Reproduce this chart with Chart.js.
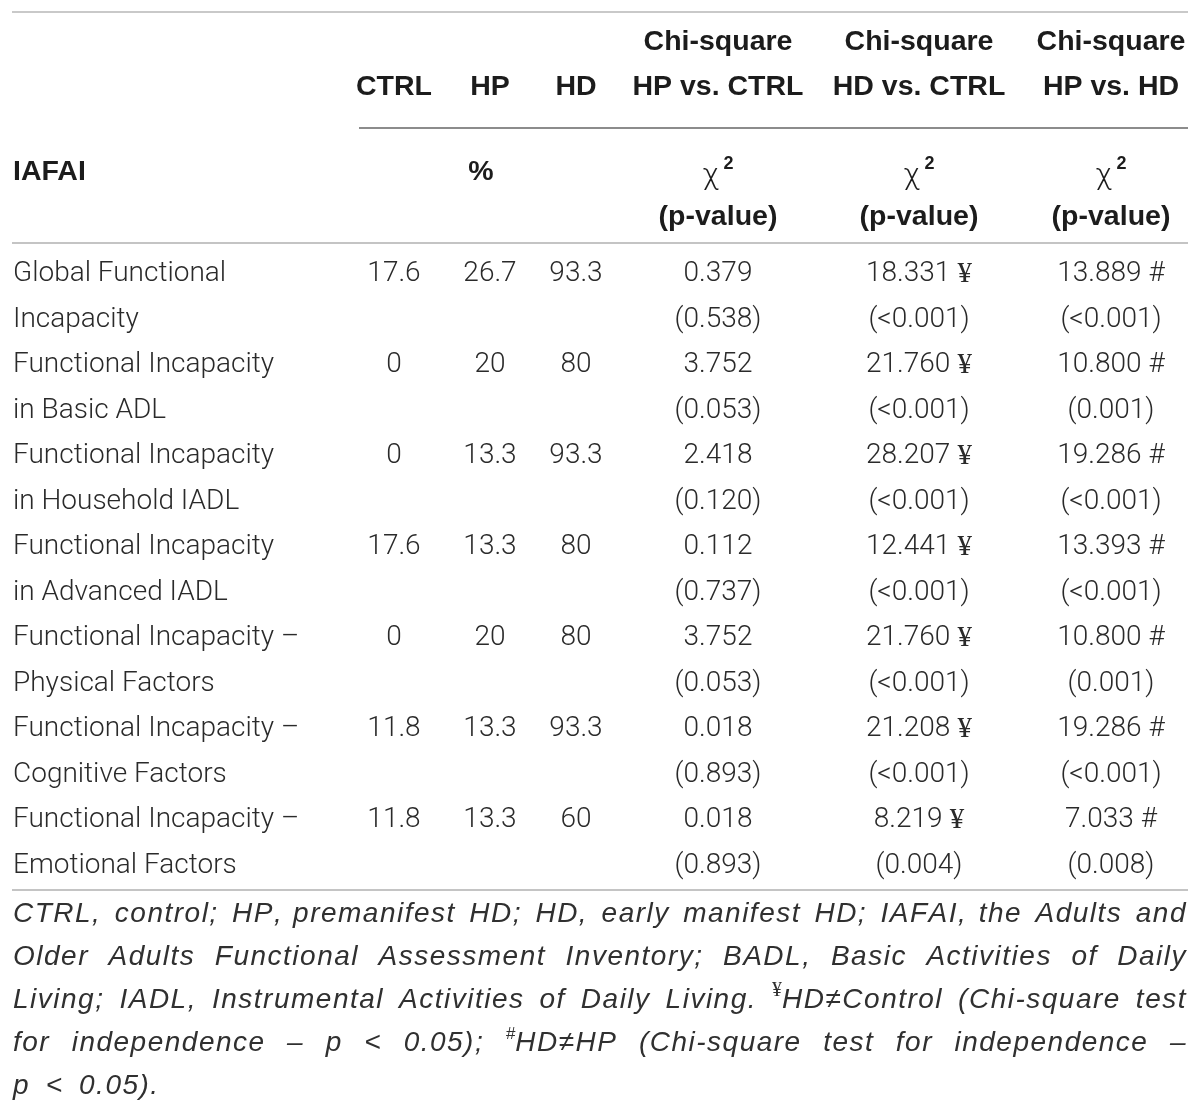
<!DOCTYPE html>
<html>
<head>
<meta charset="utf-8">
<title>IAFAI chi-square table</title>
<script src="https://cdn.jsdelivr.net/npm/chart.js@4.4.1/dist/chart.umd.min.js"></script>
<style>
  html, body { margin: 0; padding: 0; background: #fff; }
  #wrap { width: 1200px; height: 1114px; position: relative; }
</style>
</head>
<body>
<div id="wrap"><canvas id="tableChart"></canvas></div>
<script>
// -------------------- DATA --------------------
const groupHeads = ['CTRL', 'HP', 'HD'];
const chiHeads = ['HP vs. CTRL', 'HD vs. CTRL', 'HP vs. HD'];

// each measure is written on two lines
const measures = [
  ['Global Functional', 'Incapacity'],
  ['Functional Incapacity', 'in Basic ADL'],
  ['Functional Incapacity', 'in Household IADL'],
  ['Functional Incapacity', 'in Advanced IADL'],
  ['Functional Incapacity \u2013', 'Physical Factors'],
  ['Functional Incapacity \u2013', 'Cognitive Factors'],
  ['Functional Incapacity \u2013', 'Emotional Factors']
];

// % with functional incapacity
const ctrlPct = [17.6, 0, 0, 17.6, 0, 11.8, 11.8];
const hpPct = [26.7, 20, 13.3, 13.3, 20, 13.3, 13.3];
const hdPct = [93.3, 80, 93.3, 80, 80, 93.3, 60];

// chi-square values and p-values
const chiHpCtrl = [0.379, 3.752, 2.418, 0.112, 3.752, 0.018, 0.018];
const pHpCtrl = ['0.538', '0.053', '0.120', '0.737', '0.053', '0.893', '0.893'];
const chiHdCtrl = [18.331, 21.760, 28.207, 12.441, 21.760, 21.208, 8.219];
const pHdCtrl = ['<0.001', '<0.001', '<0.001', '<0.001', '<0.001', '<0.001', '0.004'];
const chiHpHd = [13.889, 10.800, 19.286, 13.393, 10.800, 19.286, 7.033];
const pHpHd = ['<0.001', '0.001', '<0.001', '<0.001', '0.001', '<0.001', '0.008'];

// significance marks per chi-square column
const chiMarks = ['', '\u00a5', '#'];

// footnote lines ("^" marks a superscript character)
const footnote = [
  'CTRL, control; HP, premanifest HD; HD, early manifest HD; IAFAI, the Adults and',
  'Older Adults Functional Assessment Inventory; BADL, Basic Activities of Daily',
  'Living; IADL, Instrumental Activities of Daily Living. ^\u00a5HD\u2260Control (Chi-square test',
  'for independence \u2013 p < 0.05); ^#HD\u2260HP (Chi-square test for independence \u2013',
  'p < 0.05).'
];

// -------------------- LAYOUT / STYLE --------------------
const colX = [394, 490, 576, 718, 919, 1111];   // column centres
const leftX = 13, rightX = 1187;
const firstRowY = 274, lineGap = 45.5;
const footY = 914, footGap = 43;

const BODY = '300 28px Roboto';
const BOLD = 'bold 28.5px "Liberation Sans"';
const YEN = '29px "Liberation Serif"';
const ITAL = 'italic 28px "Liberation Sans"';
const ITAL_LS = 1.5;   // footnote letter spacing
const INK = '#2a2a2a';

function runW(ctx, r) {
  ctx.font = r.font;
  r.w = ctx.measureText(r.text).width + (r.ls || 0) * r.text.length;
  return r.w;
}
function runsWidth(ctx, runs) {
  return runs.reduce((a, r) => a + runW(ctx, r), 0);
}
function drawRuns(ctx, runs, x, y, align) {
  const w = runsWidth(ctx, runs);
  let cx = align === 'center' ? x - w / 2 : x;
  runs.forEach(r => {
    ctx.font = r.font;
    if (r.ls) {
      for (const ch of r.text) {
        ctx.fillText(ch, cx, y + (r.dy || 0));
        cx += ctx.measureText(ch).width + r.ls;
      }
    } else {
      ctx.fillText(r.text, cx, y + (r.dy || 0));
      cx += r.w;
    }
  });
}
function wordRuns(word) {
  if (word[0] === '^') {
    const s = word[1];
    return [
      { text: s, font: s === '\u00a5' ? '20px "Liberation Serif"' : 'italic 17px "Liberation Sans"', dy: -9 },
      { text: word.slice(2), font: ITAL, ls: ITAL_LS }
    ];
  }
  return [{ text: word, font: ITAL, ls: ITAL_LS }];
}

const tablePlugin = {
  id: 'tableCells',
  afterDraw(chart) {
    const { ctx, scales: { x, y } } = chart;
    const px = v => x.getPixelForValue(v);
    const py = v => y.getPixelForValue(v);
    ctx.save();
    ctx.textBaseline = 'middle';
    ctx.textAlign = 'left';

    const rule = (y0, x0, x1, color, lw) => {
      ctx.strokeStyle = color; ctx.lineWidth = lw;
      ctx.beginPath(); ctx.moveTo(px(x0), py(y0)); ctx.lineTo(px(x1), py(y0)); ctx.stroke();
    };
    rule(12, 12, 1188, '#c9c9c9', 2);
    rule(128, 359, 1188, '#666', 1.3);
    rule(243, 12, 1188, '#c4c4c4', 2);
    rule(890, 12, 1188, '#c4c4c4', 2);

    // header
    ctx.fillStyle = '#1c1c1c';
    chiHeads.forEach((h, i) => {
      drawRuns(ctx, [{ text: 'Chi-square', font: BOLD }], px(colX[3 + i]), py(42), 'center');
      drawRuns(ctx, [{ text: h, font: BOLD }], px(colX[3 + i]), py(87), 'center');
      drawRuns(ctx, [{ text: '\u03c7', font: '300 30px Roboto' }, { text: ' 2', font: 'bold 18px "Liberation Sans"', dy: -12 }],
        px(colX[3 + i]), py(176), 'center');
      drawRuns(ctx, [{ text: '(p-value)', font: BOLD }], px(colX[3 + i]), py(217), 'center');
    });
    groupHeads.forEach((h, i) => {
      drawRuns(ctx, [{ text: h, font: BOLD }], px(colX[i]), py(87), 'center');
    });
    drawRuns(ctx, [{ text: 'IAFAI', font: BOLD }], px(leftX), py(172), 'left');
    drawRuns(ctx, [{ text: '%', font: BOLD }], px((colX[0] + colX[2]) / 2 - 4), py(172), 'center');

    // body rows
    ctx.fillStyle = INK;
    const pct = [ctrlPct, hpPct, hdPct];
    const chi = [chiHpCtrl, chiHdCtrl, chiHpHd];
    const pv = [pHpCtrl, pHdCtrl, pHpHd];
    measures.forEach((m, r) => {
      const y1 = firstRowY + r * 2 * lineGap, y2 = y1 + lineGap;
      drawRuns(ctx, [{ text: m[0], font: BODY }], px(leftX), py(y1), 'left');
      drawRuns(ctx, [{ text: m[1], font: BODY }], px(leftX), py(y2), 'left');
      pct.forEach((arr, c) => {
        drawRuns(ctx, [{ text: String(arr[r]), font: BODY }], px(colX[c]), py(y1), 'center');
      });
      chi.forEach((arr, c) => {
        const runs = [{ text: arr[r].toFixed(3), font: BODY }];
        if (chiMarks[c]) runs.push({ text: ' ' + chiMarks[c], font: chiMarks[c] === '#' ? BODY : YEN });
        drawRuns(ctx, runs, px(colX[3 + c]), py(y1), 'center');
        drawRuns(ctx, [{ text: '(' + pv[c][r] + ')', font: BODY }], px(colX[3 + c]), py(y2), 'center');
      });
    });

    // footnote, justified except the last line
    ctx.fillStyle = '#303030';
    footnote.forEach((line, i) => {
      const yy = py(footY + i * footGap);
      const words = line.split(' ').map(wordRuns);
      const widths = words.map(rs => runsWidth(ctx, rs));
      const total = widths.reduce((a, b) => a + b, 0);
      ctx.font = ITAL;
      const last = i === footnote.length - 1;
      const gap = last ? ctx.measureText(' ').width * 2.0 : (px(rightX) - px(leftX) - total) / (words.length - 1);
      let cx = px(leftX);
      words.forEach((rs, k) => {
        drawRuns(ctx, rs, cx, yy, 'left');
        cx += widths[k] + gap;
      });
    });
    ctx.restore();
  }
};

Promise.all([
  document.fonts.load(BODY), document.fonts.load(ITAL), document.fonts.load(BOLD), document.fonts.load(YEN)
]).catch(() => {}).then(() => {
  new Chart(document.getElementById('tableChart'), {
    type: 'scatter',
    data: { datasets: [] },
    options: {
      responsive: true,
      maintainAspectRatio: false,
      animation: false,
      layout: { padding: 0 },
      plugins: { legend: { display: false }, tooltip: { enabled: false } },
      scales: {
        x: { type: 'linear', min: 0, max: 1200, display: false },
        y: { type: 'linear', min: 0, max: 1114, reverse: true, display: false }
      }
    },
    plugins: [tablePlugin]
  });
});
</script>
</body>
</html>
